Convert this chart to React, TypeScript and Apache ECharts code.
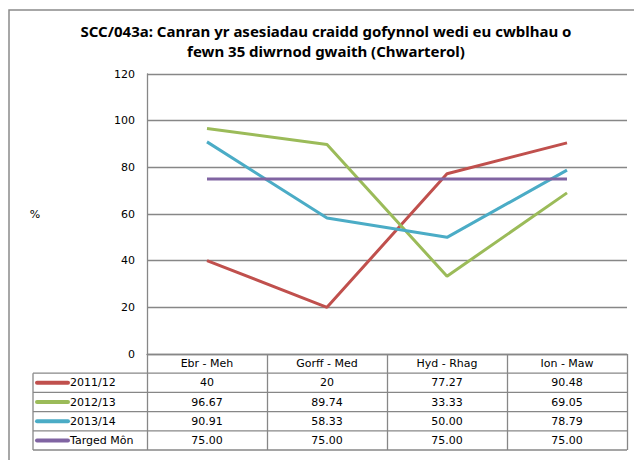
import React, { useEffect, useRef } from "react";
import * as echarts from "echarts";

const titleLines = [
  "SCC/043a: Canran yr asesiadau craidd gofynnol wedi eu cwblhau o",
  "fewn 35 diwrnod gwaith (Chwarterol)",
];
const categories = ["Ebr - Meh", "Gorff - Med", "Hyd - Rhag", "Ion - Maw"];
const seriesNames = ["2011/12", "2012/13", "2013/14", "Targed Môn"];
const values2011 = [40, 20, 77.27, 90.48];
const values2012 = [96.67, 89.74, 33.33, 69.05];
const values2013 = [90.91, 58.33, 50.0, 78.79];
const valuesTarget = [75.0, 75.0, 75.0, 75.0];
// number of decimals shown in the data table (null = general format)
const tableDecimals: (number | null)[] = [null, 2, 2, 2];
const seriesColors = ["#C0504D", "#9BBB59", "#4BACC6", "#8064A2"];
const yMin = 0;
const yMax = 120;
const yInterval = 20;
const yAxisTitle = "%";

const allValues = [values2011, values2012, values2013, valuesTarget];

const FONT = "DejaVu Sans";
const GRID_COLOR = "#878787";

export default function App() {
  const ref = useRef<HTMLDivElement>(null);

  useEffect(() => {
    if (!ref.current) return;
    const chart = echarts.init(ref.current, undefined, { renderer: "svg" });
    const gridLeft = 147;
    const gridRight = 7;
    const gridTop = 74;
    const gridBottom = 106;
    const tableLeft = 33;
    const rowH = 19.2;

    chart.setOption({
      animation: false,
      backgroundColor: "#ffffff",
      title: {
        text: titleLines.join("\n"),
        left: 326,
        top: 21,
        padding: 0,
        textAlign: "center",
        textStyle: {
          fontFamily: "Noto Sans",
          fontWeight: "bold",
          fontSize: 15,
          lineHeight: 20,
          color: "#000000",
        },
      },
      grid: { left: gridLeft, right: gridRight, top: gridTop, bottom: gridBottom },
      xAxis: {
        type: "category",
        data: categories,
        boundaryGap: true,
        axisLine: { show: true, lineStyle: { color: GRID_COLOR, width: 1.3 } },
        axisTick: {
          show: true,
          alignWithLabel: false,
          inside: false,
          length: rowH * 5,
          lineStyle: { color: GRID_COLOR, width: 1.3 },
        },
        axisLabel: {
          margin: 4,
          fontFamily: FONT,
          fontSize: 11,
          color: "#000000",
        },
        splitLine: { show: false },
      },
      yAxis: {
        type: "value",
        min: yMin,
        max: yMax,
        interval: yInterval,
        axisLine: { show: true, lineStyle: { color: GRID_COLOR, width: 1.3 } },
        axisTick: { show: false },
        axisLabel: {
          margin: 12,
          fontFamily: FONT,
          fontSize: 11,
          color: "#000000",
        },
        splitLine: { show: true, lineStyle: { color: GRID_COLOR, width: 1.3 } },
      },
      series: seriesNames.map((name, i) => ({
        name,
        type: "line",
        data: allValues[i],
        symbol: "none",
        lineStyle: { color: seriesColors[i], width: 3 },
        itemStyle: { color: seriesColors[i] },
      })),
    });

    const xs = categories.map(
      (c) => chart.convertToPixel({ xAxisIndex: 0 }, c) as number
    );
    const y0 = chart.convertToPixel({ yAxisIndex: 0 }, yMin) as number;
    const rightX = 634 - gridRight;

    const graphics: any[] = [
      {
        type: "rect",
        shape: { x: 9, y: 10, width: 800, height: 600 },
        style: { fill: "none", stroke: "#8a8a8a", lineWidth: 1.5 },
        silent: true,
      },
      {
        type: "text",
        x: 35,
        y: 214,
        style: {
          text: yAxisTitle,
          fontFamily: FONT,
          fontSize: 11,
          fill: "#000000",
          align: "center",
          verticalAlign: "middle",
        },
      },
      {
        type: "line",
        shape: { x1: tableLeft, y1: y0 + rowH, x2: tableLeft, y2: y0 + rowH * 5 },
        style: { stroke: GRID_COLOR, lineWidth: 1.3 },
      },
    ];
    for (let k = 1; k <= 5; k++) {
      graphics.push({
        type: "line",
        shape: { x1: tableLeft, y1: y0 + rowH * k, x2: rightX, y2: y0 + rowH * k },
        style: { stroke: GRID_COLOR, lineWidth: 1.3 },
      });
    }
    seriesNames.forEach((name, i) => {
      const cy = y0 + rowH * (i + 1.5);
      graphics.push({
        type: "line",
        shape: { x1: 37, y1: cy, x2: 68, y2: cy },
        style: { stroke: seriesColors[i], lineWidth: 4, lineCap: "round" },
      });
      graphics.push({
        type: "text",
        x: 70,
        y: cy,
        style: {
          text: name,
          fontFamily: FONT,
          fontSize: 11,
          fill: "#000000",
          align: "left",
          verticalAlign: "middle",
        },
      });
      allValues[i].forEach((v, j) => {
        const d = tableDecimals[i];
        graphics.push({
          type: "text",
          x: xs[j],
          y: cy,
          style: {
            text: d === null ? String(v) : v.toFixed(d),
            fontFamily: FONT,
            fontSize: 11,
            fill: "#000000",
            align: "center",
            verticalAlign: "middle",
          },
        });
      });
    });

    chart.setOption({ graphic: graphics });

    return () => chart.dispose();
  }, []);

  return (
    <div
      ref={ref}
      style={{ position: "fixed", left: 0, top: 0, width: 634, height: 460 }}
    />
  );
}
